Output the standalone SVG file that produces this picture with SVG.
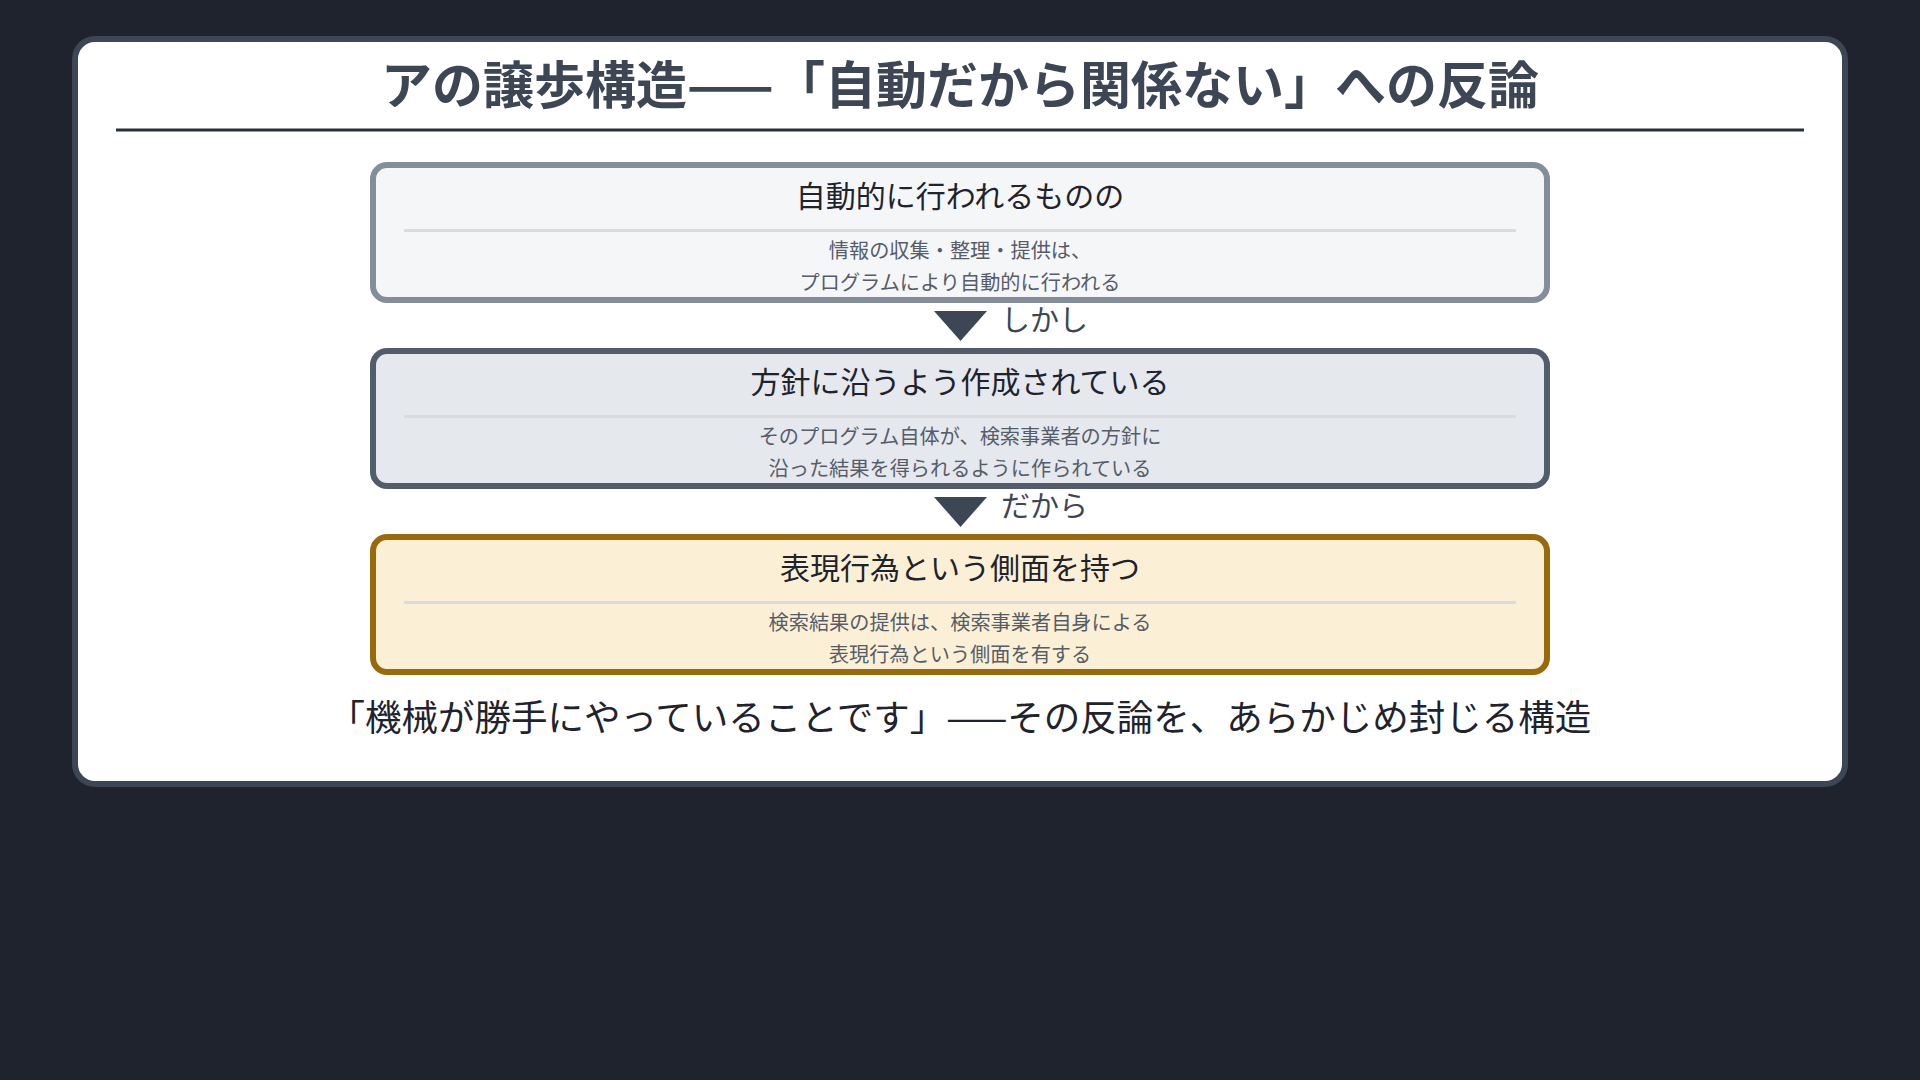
<svg xmlns="http://www.w3.org/2000/svg" width="1920" height="1080" viewBox="0 0 1920 1080">
  <style>
    text { font-family: "Noto Sans CJK JP", "Noto Sans", sans-serif; }
    .title { font-size: 51px; font-weight: 700; fill: #3d4654; }
    .ntitle { font-size: 30px; fill: #1e232d; }
    .nsub { font-size: 20.2px; fill: #555d6a; }
    .lbl { font-size: 29px; fill: #3d4654; }
    .foot { font-size: 36.5px; fill: #1e232d; }
    .div { stroke: #d9dbde; stroke-width: 3; }
    .arrow { fill: #3d4654; }
  </style>
  <rect x="0" y="0" width="1920" height="1080" fill="#1e232e"/>
  <rect x="75" y="39" width="1770" height="745" rx="20" fill="#ffffff" stroke="#3d4654" stroke-width="6"/>
  <g id="title">
    <text class="title" x="960" y="103.5" text-anchor="middle">アの譲歩構造——「自動だから関係ない」への反論</text>
    <line x1="116" y1="130" x2="1804" y2="130" stroke="#2a303a" stroke-width="3"/>
  </g>
  <g id="node-auto">
    <rect x="373" y="165" width="1174" height="135" rx="14" fill="#f5f6f8" stroke="#838d9b" stroke-width="6"/>
    <text class="ntitle" x="960" y="207" text-anchor="middle">自動的に行われるものの</text>
    <line class="div" x1="404" y1="230.5" x2="1516" y2="230.5"/>
    <text class="nsub" x="960" y="257.5" text-anchor="middle">情報の収集・整理・提供は、</text>
    <text class="nsub" x="960" y="289.5" text-anchor="middle">プログラムにより自動的に行われる</text>
  </g>
  <g id="node-policy">
    <rect x="373" y="351" width="1174" height="135" rx="14" fill="#e5e8ed" stroke="#535c6b" stroke-width="6"/>
    <text class="ntitle" x="960" y="393" text-anchor="middle">方針に沿うよう作成されている</text>
    <line class="div" x1="404" y1="416.5" x2="1516" y2="416.5"/>
    <text class="nsub" x="960" y="443.5" text-anchor="middle">そのプログラム自体が、検索事業者の方針に</text>
    <text class="nsub" x="960" y="475.5" text-anchor="middle">沿った結果を得られるように作られている</text>
  </g>
  <g id="node-expression">
    <rect x="373" y="537" width="1174" height="135" rx="14" fill="#fbf0d5" stroke="#986a0c" stroke-width="6"/>
    <text class="ntitle" x="960" y="579" text-anchor="middle">表現行為という側面を持つ</text>
    <line class="div" x1="404" y1="602.5" x2="1516" y2="602.5"/>
    <text class="nsub" x="960" y="629.5" text-anchor="middle">検索結果の提供は、検索事業者自身による</text>
    <text class="nsub" x="960" y="661.5" text-anchor="middle">表現行為という側面を有する</text>
  </g>
  <g id="connectors">
    <polygon class="arrow" points="934,311 987,311 960.5,341"/>
    <text class="lbl" x="1001" y="331">しかし</text>
    <polygon class="arrow" points="934,497 987,497 960.5,527"/>
    <text class="lbl" x="1001" y="517">だから</text>
  </g>
  <g id="footer">
    <text class="foot" x="960" y="731" text-anchor="middle">「機械が勝手にやっていることです」——その反論を、あらかじめ封じる構造</text>
  </g>
</svg>
